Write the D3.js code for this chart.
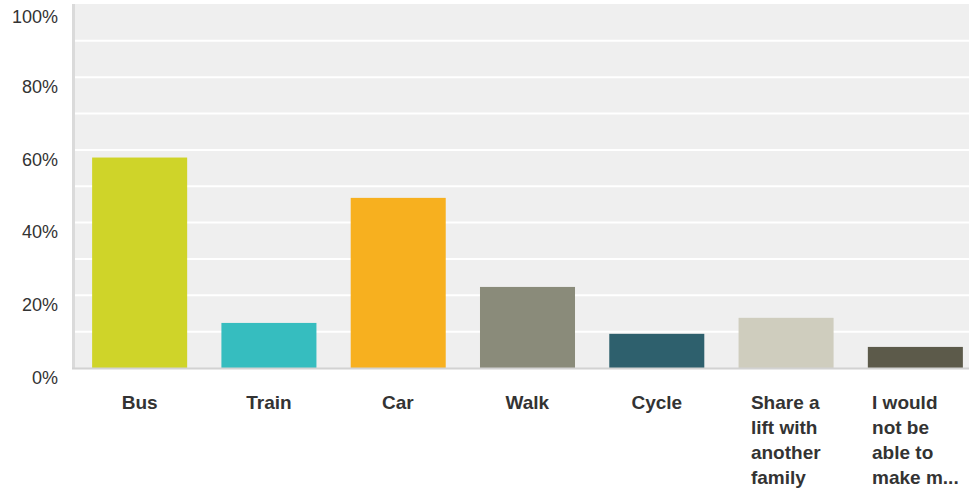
<!DOCTYPE html>
<html>
<head>
<meta charset="utf-8">
<script src="https://cdn.jsdelivr.net/npm/d3@7"></script>
<style>
  body { margin: 0; background: #fff; }
  svg { display: block; font-family: "Liberation Sans", Arial, sans-serif; }
</style>
</head>
<body>
<svg id="chart" width="969" height="491"></svg>
<script>
const categories = ["Bus", "Train", "Car", "Walk", "Cycle", "Share a lift with another family", "I would not be able to make m..."];
const labelLines = [["Bus"], ["Train"], ["Car"], ["Walk"], ["Cycle"], ["Share a", "lift with", "another", "family"], ["I would", "not be", "able to", "make m..."]];
const values = [57.9, 12.4, 46.8, 22.3, 9.4, 13.8, 5.8];
const colors = ["#cfd429", "#36bdbf", "#f7b01f", "#8a8b7a", "#2e606d", "#cfcdbe", "#5c5a4a"];
const yTicks = [0, 20, 40, 60, 80, 100];
const gridTicks = [10, 20, 30, 40, 50, 60, 70, 80, 90];

const width = 969;
const height = 491;
const plotLeft = 75, plotTop = 4, plotBottom = 368;

const svg = d3.select("#chart");

const x = d3.scaleBand()
  .domain(categories)
  .range([plotLeft, 980])
  .paddingInner(0.265)
  .paddingOuter(0.1325);

const y = d3.scaleLinear()
  .domain([0, 100])
  .range([plotBottom, 4.5]);

// background
svg.append("rect")
  .attr("x", plotLeft)
  .attr("y", plotTop)
  .attr("width", width - plotLeft)
  .attr("height", plotBottom - plotTop)
  .attr("fill", "#efefef");

// left edge
svg.append("rect")
  .attr("x", 72)
  .attr("y", plotTop)
  .attr("width", 3)
  .attr("height", plotBottom - plotTop + 1)
  .attr("fill", "#dadada");

// gridlines
svg.selectAll(".grid")
  .data(gridTicks)
  .enter()
  .append("line")
  .attr("class", "grid")
  .attr("x1", plotLeft)
  .attr("x2", width)
  .attr("y1", d => y(d))
  .attr("y2", d => y(d))
  .attr("stroke", "#fff")
  .attr("stroke-width", 2);

// bars
svg.selectAll(".bar")
  .data(values)
  .enter()
  .append("rect")
  .attr("class", "bar")
  .attr("x", (d, i) => x(categories[i]))
  .attr("y", d => y(d))
  .attr("width", x.bandwidth())
  .attr("height", d => y(0) - y(d))
  .attr("fill", (d, i) => colors[i]);

// x axis line
svg.append("line")
  .attr("x1", 72)
  .attr("x2", width)
  .attr("y1", plotBottom + 0.5)
  .attr("y2", plotBottom + 0.5)
  .attr("stroke", "#d2d2d2")
  .attr("stroke-width", 2);

// y labels
const yAxis = d3.axisLeft(y)
  .tickValues(yTicks)
  .tickFormat(d => d + "%")
  .tickSize(0);

const gy = svg.append("g")
  .attr("transform", "translate(58,0)")
  .call(yAxis);
gy.select(".domain").remove();
gy.selectAll("text")
  .attr("font-family", "Liberation Sans, Arial, sans-serif")
  .attr("font-size", 18)
  .attr("fill", "#333")
  .attr("x", 0)
  .attr("dy", null)
  .attr("y", d => Math.max(15.3, 22.7 - y(d)))
  .attr("text-anchor", "end");

// x labels: lines left aligned, block centred on the band
const xl = svg.append("g");
labelLines.forEach((lines, i) => {
  const g = xl.append("g");
  const t = g.append("text")
    .attr("font-size", 19)
    .attr("font-weight", "bold")
    .attr("fill", "#333");
  lines.forEach((ln, j) => {
    t.append("tspan")
      .attr("x", 0)
      .attr("y", 409 + j * 25)
      .text(ln);
  });
  const w = t.node().getBBox().width;
  const cx = x(categories[i]) + x.bandwidth() / 2;
  g.attr("transform", `translate(${cx - w / 2},0)`);
});
</script>
</body>
</html>
